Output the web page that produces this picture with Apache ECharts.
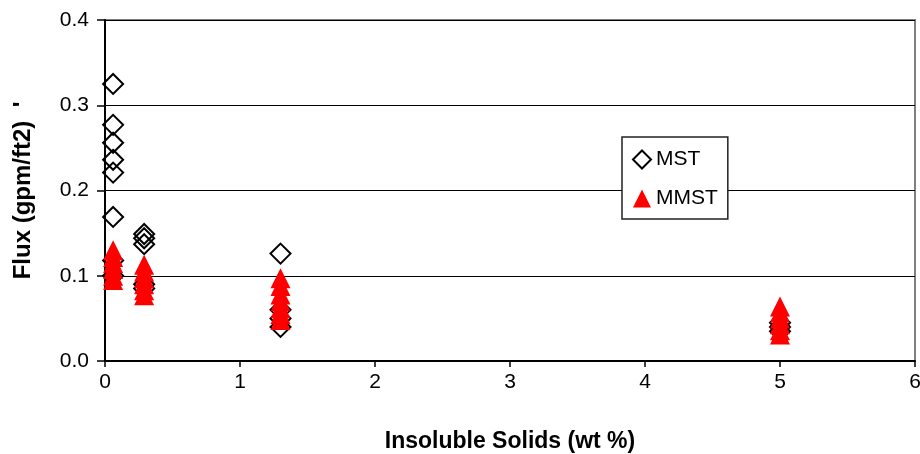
<!DOCTYPE html>
<html>
<head>
<meta charset="utf-8">
<script src="https://cdn.jsdelivr.net/npm/echarts@6/dist/echarts.min.js"></script>
<style>
  html, body { margin: 0; padding: 0; background: #fff; }
  #chart { width: 920px; height: 454px; }
</style>
</head>
<body>
<div id="chart"></div>
<script>
// insoluble solids (wt %) for each measurement group
var mstX = [0.06, 0.06, 0.06, 0.06, 0.06, 0.06, 0.06, 0.06,
            0.29, 0.29, 0.29, 0.29, 0.29,
            1.3, 1.3, 1.3, 1.3,
            5, 5, 5];
var mstFlux = [0.325, 0.277, 0.256, 0.236, 0.221, 0.169, 0.118, 0.100,
               0.149, 0.144, 0.137, 0.090, 0.085,
               0.126, 0.060, 0.050, 0.040,
               0.045, 0.040, 0.035];

var mmstX = [0.06, 0.06, 0.06, 0.06, 0.06, 0.06,
             0.29, 0.29, 0.29, 0.29, 0.29, 0.29,
             1.3, 1.3, 1.3, 1.3, 1.3, 1.3, 1.3,
             5, 5, 5, 5, 5, 5];
var mmstFlux = [0.130, 0.122, 0.115, 0.108, 0.100, 0.095,
                0.113, 0.105, 0.097, 0.090, 0.083, 0.077,
                0.097, 0.088, 0.078, 0.070, 0.062, 0.055, 0.048,
                0.064, 0.057, 0.050, 0.043, 0.036, 0.031];

function pairs(xs, ys) {
    return xs.map(function (x, i) { return [x, ys[i]]; });
}

var chart = echarts.init(document.getElementById('chart'), null, { renderer: 'canvas' });

var font = 'Liberation Sans, Arial, sans-serif';

var option = {
    backgroundColor: '#fff',
    animation: false,
    textStyle: { fontFamily: font },
    grid: {
        left: 105,
        right: 5,
        top: 20,
        bottom: 93,
        outerBoundsMode: 'none',
        show: true,
        borderColor: '#808080',
        borderWidth: 2
    },
    legend: {
        orient: 'vertical',
        left: 622,
        top: 137,
        padding: [12, 10, 10, 10],
        itemGap: 18,
        itemWidth: 18,
        itemHeight: 18,
        backgroundColor: '#fff',
        borderColor: '#222',
        borderWidth: 1.5,
        textStyle: { fontSize: 21, color: '#000', fontFamily: font },
        data: ['MST', 'MMST']
    },
    xAxis: {
        type: 'value',
        min: 0,
        max: 6,
        interval: 1,
        name: 'Insoluble Solids (wt %)',
        nameLocation: 'middle',
        nameGap: 69,
        nameTextStyle: { fontSize: 23, fontWeight: 'bold', color: '#000' },
        axisLine: { show: true, lineStyle: { color: '#000', width: 2 } },
        axisTick: { show: true, length: 6, lineStyle: { color: '#000', width: 1.5 } },
        axisLabel: { fontSize: 21, color: '#000', margin: 11 },
        splitLine: { show: false }
    },
    yAxis: {
        type: 'value',
        min: 0,
        max: 0.4,
        interval: 0.1,
        name: "Flux (gpm/ft2)  '",
        nameLocation: 'middle',
        nameGap: 70,
        nameTextStyle: { fontSize: 24, fontWeight: 'bold', color: '#000' },
        axisLine: { show: true, lineStyle: { color: '#000', width: 2 } },
        axisTick: { show: true, length: 8, lineStyle: { color: '#000', width: 1.5 } },
        axisLabel: {
            fontSize: 21,
            color: '#000',
            margin: 16,
            formatter: function (v) { return v.toFixed(1); }
        },
        splitLine: { show: true, lineStyle: { color: '#000', width: 1 } }
    },
    series: [
        {
            name: 'MST',
            type: 'scatter',
            symbol: 'diamond',
            symbolSize: [20, 20],
            itemStyle: { color: 'rgba(0,0,0,0)', borderColor: '#000', borderWidth: 2, opacity: 1 },
            data: pairs(mstX, mstFlux)
        },
        {
            name: 'MMST',
            type: 'scatter',
            symbol: 'triangle',
            symbolSize: [20, 20],
            itemStyle: { color: '#ff0000', opacity: 1 },
            data: pairs(mmstX, mmstFlux)
        }
    ]
};

chart.setOption(option);
</script>
</body>
</html>
